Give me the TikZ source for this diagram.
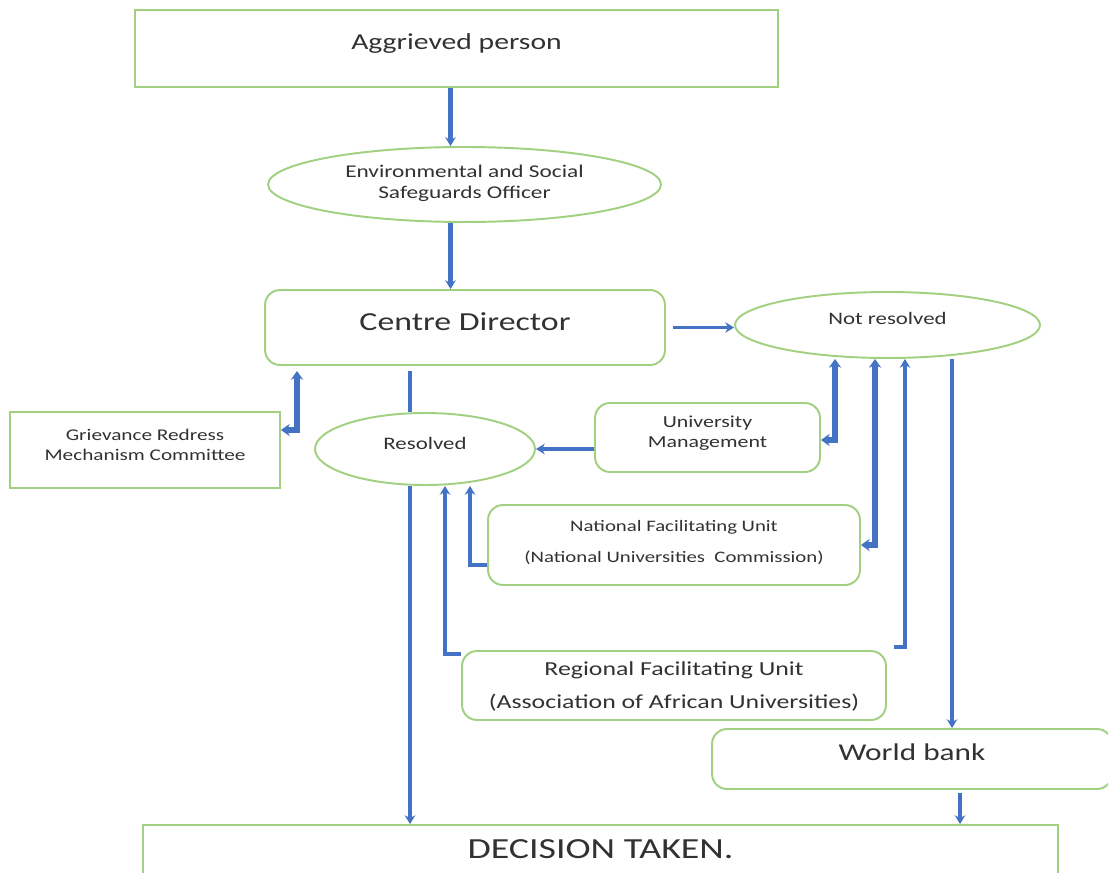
\documentclass[tikz,border=0pt]{standalone}
\usepackage{fontspec}
\setmainfont{Carlito}[FakeStretch=1.3]
\usepackage{tikz}
\usetikzlibrary{arrows.meta,shapes.geometric,calc}
\definecolor{boxgreen}{RGB}{160,208,128}
\definecolor{flowblue}{RGB}{68,114,196}
\definecolor{txtgray}{RGB}{50,50,50}

\begin{document}
\begin{tikzpicture}[x=0.02cm, y=-0.02cm,
    every node/.style={text=txtgray, align=center},
    sqbox/.style={draw=boxgreen, line width=1.1pt, rectangle, inner sep=0pt},
    rbox/.style={sqbox, rounded corners=0.3cm},
    oval/.style={draw=boxgreen, line width=1.1pt, ellipse, inner sep=0pt},
    flow/.style={draw=flowblue, line width=2pt, -{Stealth[length=5pt,width=6pt]}},
    flowthick/.style={draw=flowblue, line width=3.2pt, -{Stealth[length=5pt,width=7pt]}},
    twoway/.style={flowthick, {Stealth[length=5pt,width=7pt]}-{Stealth[length=5pt,width=7pt]}}]
    \useasboundingbox (0,0) rectangle (1108,872);
    \clip (0,0) rectangle (1108,872);

    % Top of the chain
    \node[sqbox, minimum width=12.86cm, minimum height=1.54cm, text depth=0.29cm,
        font=\fontsize{13}{16}\selectfont] (aggr) at (456.5,48.5) {Aggrieved person};
    \node[oval, minimum width=7.86cm, minimum height=1.5cm, text depth=0.12cm,
        font=\fontsize{10.2}{12}\selectfont] (ess) at (464.5,184.5)
        {Environmental and Social\\Safeguards Officer};
    \node[rbox, minimum width=8cm, minimum height=1.5cm, text depth=0.25cm,
        font=\fontsize{14.8}{18}\selectfont] (cd) at (465,327.5) {Centre Director};

    % Outcomes
    \node[oval, minimum width=6.1cm, minimum height=1.32cm, text depth=0.25cm,
        font=\fontsize{10}{12}\selectfont] (notres) at (887.5,325) {Not resolved};
    \node[oval, minimum width=4.4cm, minimum height=1.44cm, text depth=0.21cm,
        font=\fontsize{10}{12}\selectfont] (res) at (425,449) {Resolved};

    % Escalation levels
    \node[sqbox, minimum width=5.4cm, minimum height=1.52cm, text depth=0.22cm,
        font=\fontsize{9.3}{11.5}\selectfont] (grm) at (145,450)
        {Grievance Redress\\Mechanism Committee};
    \node[rbox, minimum width=4.5cm, minimum height=1.38cm, text depth=0.22cm,
        font=\fontsize{9.6}{11.5}\selectfont] (um) at (707.5,437.5)
        {University\\Management};
    \node[rbox, minimum width=7.44cm, minimum height=1.6cm, text depth=0.13cm,
        font=\fontsize{9.1}{17.6}\selectfont] (nfu) at (674,545)
        {National Facilitating Unit\\(National Universities\ \ Commission)};
    \node[rbox, minimum width=8.48cm, minimum height=1.38cm, text depth=0pt,
        font=\fontsize{11.3}{18.8}\selectfont] (rfu) at (674,685.5)
        {Regional Facilitating Unit\\(Association of African Universities)};
    \node[rbox, minimum width=8cm, minimum height=1.2cm, text depth=0.28cm,
        font=\fontsize{13.7}{16}\selectfont] (wb) at (912,759) {World bank};
    \node[sqbox, minimum width=18.3cm, minimum height=1.12cm, text depth=0.15cm,
        font=\fontsize{16.6}{20}\selectfont] (dec) at (600.5,853) {DECISION TAKEN.};

    % Columns of the vertical connectors
    \coordinate (xres) at (410,0);
    \coordinate (xgrm) at (297,0);
    \coordinate (xum) at (835,0);
    \coordinate (xnfu) at (875,0);
    \coordinate (xnfures) at (470,0);
    \coordinate (xrfures) at (445,0);
    \coordinate (xrfu) at (905,0);
    \coordinate (xwbin) at (952,0);
    \coordinate (xwbout) at (960,0);

    % Main chain
    \draw[flow, line width=2.6pt] ([xshift=-0.28cm]aggr.south -| ess.north) -- ([xshift=-0.28cm]ess.north);
    \draw[flow, line width=2.6pt] ([xshift=-0.28cm]ess.south) -- ([xshift=-0.28cm]ess.south |- cd.north);
    \draw[flow] ([xshift=0.14cm]cd.east) -- (cd.east -| notres.west);
    \draw[draw=flowblue, line width=2pt] ([yshift=-0.1cm]cd.south -| xres) -- (res.north -| xres);
    \draw[flow] (res.south -| xres) -- (dec.north -| xres);

    % Committee and Not resolved branches
    \draw[twoway] ([yshift=0.4cm]grm.east) -| ([yshift=-0.1cm]cd.south -| xgrm);
    \draw[twoway] ([yshift=-0.05cm]um.east) -| (notres.south -| xum);
    \draw[flow] (um.west |- res.east) -- (res.east);
    \draw[twoway] (nfu.east) -| (notres.south -| xnfu);
    \draw[flow, line width=2.4pt] ([yshift=-0.4cm]nfu.west) -| (res.south -| xnfures);
    \draw[flow] ([yshift=-0.08cm]rfu.north west) -| (res.south -| xrfures);
    \draw[flow] ([xshift=0.15cm, yshift=0.06cm]rfu.north east) -| (notres.south -| xrfu);
    \draw[flow] (notres.south -| xwbin) -- (wb.north -| xwbin);
    \draw[flow] ([yshift=-0.06cm]wb.south -| xwbout) -- (dec.north -| xwbout);
\end{tikzpicture}
\end{document}
